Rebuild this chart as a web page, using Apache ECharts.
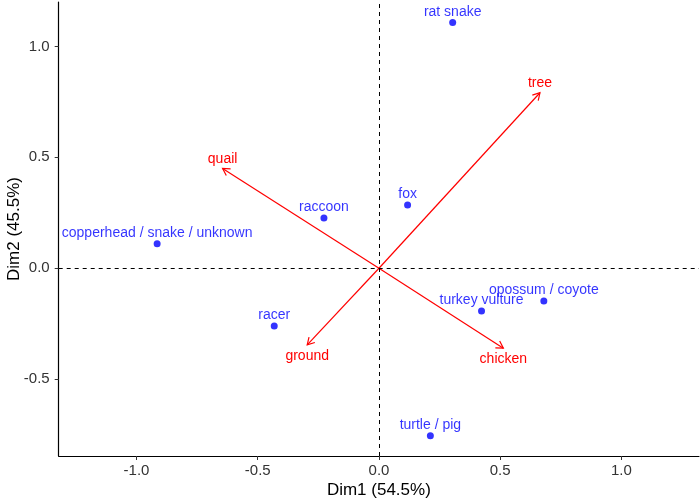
<!DOCTYPE html>
<html>
<head>
<meta charset="utf-8">
<script src="https://cdn.jsdelivr.net/npm/echarts@6/dist/echarts.min.js"></script>
<style>html,body{margin:0;padding:0;background:#fff;}#c{width:700px;height:503px;}</style>
</head>
<body>
<div id="c"></div>
<script>
// Row points (blue)
var rowNames = ['rat snake', 'fox', 'raccoon', 'copperhead / snake / unknown', 'racer', 'turkey vulture', 'opossum / coyote', 'turtle / pig'];
var rowDim1 = [0.304, 0.118, -0.227, -0.915, -0.432, 0.423, 0.680, 0.212];
var rowDim2 = [1.108, 0.285, 0.227, 0.111, -0.260, -0.192, -0.147, -0.755];

// Column arrows (red)
var colNames = ['tree', 'quail', 'ground', 'chicken'];
var colDim1 = [0.664, -0.645, -0.296, 0.513];
var colDim2 = [0.791, 0.450, -0.345, -0.360];

// Axis ticks
var xTicks = [-1.0, -0.5, 0.0, 0.5, 1.0];
var yTicks = [-0.5, 0.0, 0.5, 1.0];

var FONT = 'Liberation Sans, Arial, sans-serif';

var rowData = rowNames.map(function (n, i) { return { name: n, value: [rowDim1[i], rowDim2[i]] }; });
var colData = colNames.map(function (n, i) { return [colDim1[i], colDim2[i], n]; });

var chart = echarts.init(document.getElementById('c'), null, { renderer: 'canvas' });

function fmt(v) { var s = Number(v).toFixed(1); return s === '-0.0' ? '0.0' : s; }

var option = {
  animation: false,
  backgroundColor: '#ffffff',
  grid: { left: 58.7, right: 1, top: 2, bottom: 47, containLabel: false, outerBoundsMode: 'none' },
  xAxis: {
    type: 'value',
    min: -1.321, max: 1.32,
    name: 'Dim1 (54.5%)', nameLocation: 'middle', nameGap: 26, nameMoveOverlap: false,
    nameTextStyle: { fontFamily: FONT, fontSize: 17, color: '#000' },
    axisLine: { show: true, onZero: false, lineStyle: { color: '#000', width: 1.2 } },
    axisTick: { show: true, length: 4, inside: false, customValues: xTicks, lineStyle: { color: '#333' } },
    axisLabel: { customValues: xTicks, formatter: fmt, fontFamily: FONT, fontSize: 15, color: '#333', margin: 7 },
    splitLine: { show: false }
  },
  yAxis: {
    type: 'value',
    min: -0.846, max: 1.2,
    name: 'Dim2 (45.5%)', nameLocation: 'middle', nameGap: 36, nameRotate: 90, nameMoveOverlap: false,
    nameTextStyle: { fontFamily: FONT, fontSize: 17, color: '#000' },
    axisLine: { show: true, onZero: false, lineStyle: { color: '#000', width: 1.2 } },
    axisTick: { show: true, length: 4, inside: false, customValues: yTicks, lineStyle: { color: '#333' } },
    axisLabel: { customValues: yTicks, formatter: fmt, fontFamily: FONT, fontSize: 15, color: '#333', margin: 9 },
    splitLine: { show: false }
  },
  series: [
    {
      type: 'scatter',
      data: rowData,
      symbol: 'circle',
      symbolSize: 7,
      itemStyle: { color: '#0000ff' },
      label: {
        show: true, position: 'top', distance: 0,
        formatter: function (p) { return p.name; },
        fontFamily: FONT, fontSize: 14, color: '#0000ff'
      },
      markLine: {
        silent: true, symbol: ['none', 'none'], label: { show: false },
        lineStyle: { color: '#000', type: [4, 4], width: 1 },
        data: [{ xAxis: 0 }, { yAxis: 0 }],
        animation: false
      },
      z: 3
    },
    {
      type: 'custom',
      data: colData,
      clip: false,
      z: 4,
      renderItem: function (params, api) {
        var p0 = api.coord([0, 0]);
        var p1 = api.coord([api.value(0), api.value(1)]);
        var th = Math.atan2(p1[1] - p0[1], p1[0] - p0[0]);
        var L = 8, a = Math.PI / 6;
        var h1 = [p1[0] - L * Math.cos(th - a), p1[1] - L * Math.sin(th - a)];
        var h2 = [p1[0] - L * Math.cos(th + a), p1[1] - L * Math.sin(th + a)];
        var up = api.value(1) >= 0;
        return {
          type: 'group',
          children: [
            { type: 'line', shape: { x1: p0[0], y1: p0[1], x2: p1[0], y2: p1[1] }, style: { stroke: '#ff0000', lineWidth: 1.2 } },
            { type: 'polyline', shape: { points: [h1, p1, h2] }, style: { stroke: '#ff0000', lineWidth: 1.2, fill: null } },
            { type: 'text', x: p1[0], y: p1[1] + (up ? -9.5 : 11),
              style: { text: api.value(2), fill: '#ff0000', font: '14px ' + FONT, textAlign: 'center', textVerticalAlign: 'middle' } }
          ]
        };
      }
    }
  ]
};
chart.setOption(option);
</script>
</body>
</html>
